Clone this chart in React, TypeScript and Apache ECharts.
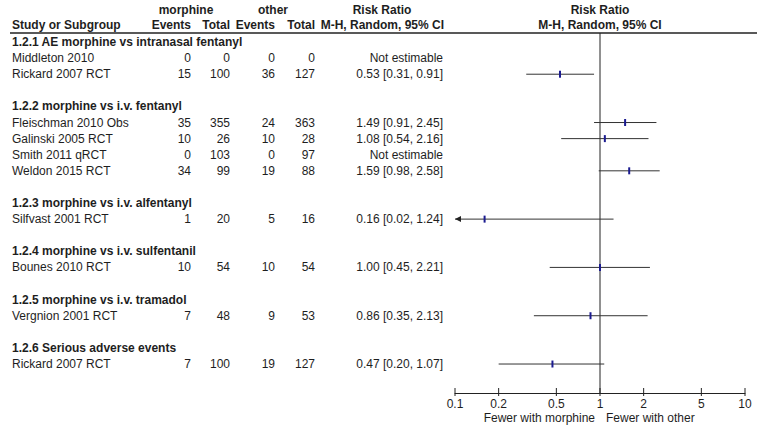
import React, { useEffect, useRef } from 'react';
import * as echarts from 'echarts';

// ---------- data ----------
const subgroupLabels = [
  '1.2.1 AE morphine vs intranasal fentanyl',
  '1.2.2 morphine vs i.v. fentanyl',
  '1.2.3 morphine vs i.v. alfentanyl',
  '1.2.4 morphine vs i.v. sulfentanil',
  '1.2.5 morphine vs i.v. tramadol',
  '1.2.6 Serious adverse events',
];
const subgroupRows = [0, 4, 10, 13, 16, 19];

const studyNames = [
  'Middleton 2010',
  'Rickard 2007 RCT',
  'Fleischman 2010 Obs',
  'Galinski 2005 RCT',
  'Smith 2011 qRCT',
  'Weldon 2015 RCT',
  'Silfvast 2001 RCT',
  'Bounes 2010 RCT',
  'Vergnion 2001 RCT',
  'Rickard 2007 RCT',
];
const studyRows = [1, 2, 5, 6, 7, 8, 11, 14, 17, 20];
const morphineEvents = [0, 15, 35, 10, 0, 34, 1, 10, 7, 7];
const morphineTotal = [0, 100, 355, 26, 103, 99, 20, 54, 48, 100];
const otherEvents = [0, 36, 24, 10, 0, 19, 5, 10, 9, 19];
const otherTotal = [0, 127, 363, 28, 97, 88, 16, 54, 53, 127];
const riskRatio: (number | null)[] = [null, 0.53, 1.49, 1.08, null, 1.59, 0.16, 1.0, 0.86, 0.47];
const ciLower: (number | null)[] = [null, 0.31, 0.91, 0.54, null, 0.98, 0.02, 0.45, 0.35, 0.2];
const ciUpper: (number | null)[] = [null, 0.91, 2.45, 2.16, null, 2.58, 1.24, 2.21, 2.13, 1.07];

const axisTicks = [0.1, 0.2, 0.5, 1, 2, 5, 10];
const axisTickLabels = ['0.1', '0.2', '0.5', '1', '2', '5', '10'];
const favoursLeft = 'Fewer with morphine';
const favoursRight = 'Fewer with other';
const notEstimable = 'Not estimable';

// ---------- style ----------
const FONT = 'Arial, "Liberation Sans", sans-serif';
const TEXT = '#1e1e1e';
const X_MIN = 0.1;
const X_MAX = 10;
const Y_MIN = -0.56;
const Y_MAX = 21.8;

function txt(text: string, x: number, y: number, align: string, bold = false, size = 12) {
  return {
    type: 'text',
    x,
    y,
    silent: true,
    style: {
      text,
      fill: TEXT,
      fontSize: size,
      fontFamily: FONT,
      fontWeight: bold ? 'bold' : 'normal',
      align,
      verticalAlign: 'middle',
      textAlign: align,
      textVerticalAlign: 'middle',
    },
  };
}

function rrText(i: number) {
  const r = riskRatio[i];
  if (r == null) return notEstimable;
  return `${r.toFixed(2)} [${(ciLower[i] as number).toFixed(2)}, ${(ciUpper[i] as number).toFixed(2)}]`;
}

export default function App() {
  const ref = useRef<HTMLDivElement>(null);
  useEffect(() => {
    const chart = echarts.init(ref.current as HTMLDivElement, null, { renderer: 'svg' });

    const forestData: number[][] = [];
    studyRows.forEach((row, i) => {
      const r = riskRatio[i];
      if (r != null) forestData.push([r, row, ciLower[i] as number, ciUpper[i] as number]);
    });

    const option: any = {
      animation: false,
      grid: { left: 455, right: 13, top: 33, bottom: 37, containLabel: false },
      xAxis: {
        type: 'log',
        logBase: 10,
        min: X_MIN,
        max: X_MAX,
        axisLine: { show: true, onZero: false, lineStyle: { color: '#222', width: 1 } },
        axisTick: { show: false },
        axisLabel: { show: false },
        splitLine: { show: false },
      },
      yAxis: {
        type: 'value',
        inverse: true,
        min: Y_MIN,
        max: Y_MAX,
        show: false,
        splitLine: { show: false },
      },
      graphic: [
        txt('morphine', 186, 10, 'center', true),
        txt('other', 273, 10, 'center', true),
        txt('Risk Ratio', 382, 10, 'center', true),
        txt('Risk Ratio', 600, 10, 'center', true),
        txt('Study or Subgroup', 12, 25, 'left', true),
        txt('Events', 191, 25, 'right', true),
        txt('Total', 230, 25, 'right', true),
        txt('Events', 275, 25, 'right', true),
        txt('Total', 315, 25, 'right', true),
        txt('M-H, Random, 95% CI', 444, 25, 'right', true),
        txt('M-H, Random, 95% CI', 600, 25, 'center', true),
        {
          type: 'line',
          silent: true,
          shape: { x1: 10, y1: 33, x2: 757, y2: 33 },
          style: { stroke: '#222', lineWidth: 1.5 },
        },
        txt(favoursLeft, 595, 418, 'right', false),
        txt(favoursRight, 606, 418, 'left', false),
      ],
      series: [
        {
          type: 'custom',
          name: 'subgroups',
          clip: false,
          silent: true,
          data: subgroupRows.map((r, i) => [1, r, i]),
          encode: { x: 0, y: 1 },
          renderItem: (params: any, api: any) => {
            const i = api.value(2);
            const y = api.coord([1, api.value(1)])[1];
            return txt(subgroupLabels[i], 12, y, 'left', true);
          },
        },
        {
          type: 'custom',
          name: 'table',
          clip: false,
          silent: true,
          data: studyRows.map((r, i) => [1, r, i]),
          encode: { x: 0, y: 1 },
          renderItem: (params: any, api: any) => {
            const i = api.value(2);
            const y = api.coord([1, api.value(1)])[1];
            return {
              type: 'group',
              children: [
                txt(studyNames[i], 12, y, 'left'),
                txt(String(morphineEvents[i]), 191, y, 'right'),
                txt(String(morphineTotal[i]), 230, y, 'right'),
                txt(String(otherEvents[i]), 275, y, 'right'),
                txt(String(otherTotal[i]), 315, y, 'right'),
                txt(rrText(i), 443, y, 'right'),
              ],
            };
          },
        },
        {
          type: 'custom',
          name: 'nullLine',
          clip: false,
          silent: true,
          data: [[1, Y_MIN]],
          encode: { x: 0, y: 1 },
          renderItem: (params: any, api: any) => {
            const top = api.coord([1, Y_MIN]);
            const bot = api.coord([1, Y_MAX]);
            return {
              type: 'line',
              shape: { x1: top[0], y1: top[1], x2: bot[0], y2: bot[1] },
              style: { stroke: '#222', lineWidth: 1 },
            };
          },
        },
        {
          type: 'custom',
          name: 'ticks',
          clip: false,
          silent: true,
          data: axisTicks.map((v, i) => [v, Y_MAX, i]),
          encode: { x: 0, y: 1 },
          renderItem: (params: any, api: any) => {
            const i = api.value(2);
            const p = api.coord([api.value(0), Y_MAX]);
            return {
              type: 'group',
              children: [
                {
                  type: 'line',
                  shape: { x1: p[0], y1: p[1] - 5, x2: p[0], y2: p[1] + 3 },
                  style: { stroke: '#222', lineWidth: 1 },
                },
                txt(axisTickLabels[i], p[0], p[1] + 11, 'center'),
              ],
            };
          },
        },
        {
          type: 'custom',
          name: 'forest',
          clip: false,
          silent: true,
          data: forestData,
          encode: { x: 0, y: 1 },
          renderItem: (params: any, api: any) => {
            const rr = api.value(0);
            const row = api.value(1);
            const lo = api.value(2);
            const hi = api.value(3);
            const pm = api.coord([rr, row]);
            const y = pm[1];
            const xl = api.coord([Math.max(lo, X_MIN), row])[0];
            const xh = api.coord([Math.min(hi, X_MAX), row])[0];
            const children: any[] = [
              {
                type: 'line',
                shape: { x1: xl, y1: y, x2: xh, y2: y },
                style: { stroke: '#333', lineWidth: 1 },
              },
            ];
            if (lo < X_MIN) {
              children.push({
                type: 'polygon',
                shape: { points: [[xl, y], [xl + 6, y - 3], [xl + 6, y + 3]] },
                style: { fill: '#222' },
              });
            }
            children.push({
              type: 'rect',
              shape: { x: pm[0] - 1, y: y - 3.5, width: 2, height: 7 },
              style: { fill: '#1b1b90' },
            });
            return { type: 'group', children };
          },
        },
      ],
    };

    chart.setOption(option);
    return () => chart.dispose();
  }, []);

  return (
    <div
      ref={ref}
      style={{ position: 'fixed', left: 0, top: 0, width: 758, height: 430, background: '#fff' }}
    />
  );
}
